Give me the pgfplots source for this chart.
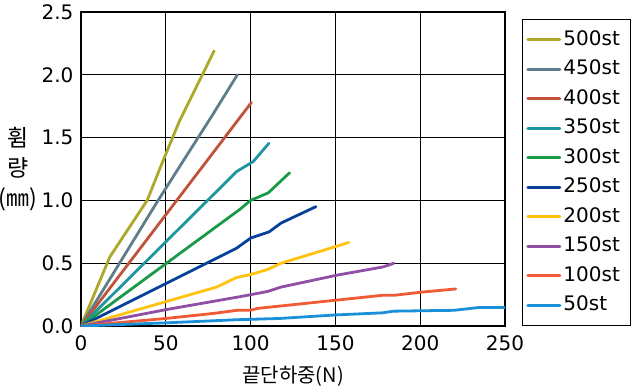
\documentclass[border=0pt]{standalone}
\usepackage{pgfplots}
\pgfplotsset{compat=1.18}
\usepackage{fontspec}
\setmainfont{DejaVu Sans}
\newfontfamily\kr{Noto Sans CJK KR}
\definecolor{c500}{HTML}{ADA829}
\definecolor{c450}{HTML}{5F7D8C}
\definecolor{c400}{HTML}{C0533A}
\definecolor{c350}{HTML}{1E96A0}
\definecolor{c300}{HTML}{1A9A48}
\definecolor{c250}{HTML}{0A3F99}
\definecolor{c200}{HTML}{FFC20E}
\definecolor{c150}{HTML}{8E4FA4}
\definecolor{c100}{HTML}{F05A35}
\definecolor{c50}{HTML}{1A90D9}
\begin{document}
\begin{tikzpicture}
\useasboundingbox (-81pt,-63pt) rectangle (552pt,326pt);
\begin{axis}[
  scale only axis, width=424pt, height=314pt,
  xmin=0, xmax=250, ymin=0, ymax=2.5,
  xtick={0,50,100,150,200,250}, ytick={0,0.5,1,1.5,2,2.5},
  grid=major, grid style={black, line width=1.2pt},
  axis line style={line width=2.5pt}, tick style={draw=none},
  /pgf/number format/assume math mode=true,
  yticklabel style={xshift=-4pt, /pgf/number format/.cd, fixed, fixed zerofill, precision=1},
  tick label style={font=\fontsize{20}{20}\selectfont},
  xticklabel style={yshift=-6pt},
  xlabel={\kr 끝단하중(N)},
  xlabel style={at={(axis description cs:0.5,0)}, anchor=center, yshift=-50pt, font=\fontsize{20}{20}\selectfont},
  ylabel={\kr 휨\\\kr 량\\\kr (㎜)},
  ylabel style={at={(axis description cs:0,0.5)}, anchor=center, rotate=-90, xshift=-63pt, align=center, font=\fontsize{23}{30}\selectfont},
  legend style={at={(1.04,0.978)}, anchor=north west, draw=black, line width=1pt,
    font=\fontsize{20}{20}\selectfont, row sep=6.5pt, inner xsep=4pt, inner ysep=9pt,
    nodes={inner sep=2pt, text height=15pt, text depth=4pt, text width=61pt}},
  legend cell align=left,
  legend image code/.code={\draw[#1, line width=3pt] (0pt,0pt) -- (32pt,0pt);},
  every axis plot/.append style={line width=2.8pt, line cap=round, line join=round},
]
\addplot[c500] coordinates {(0,0) (17,0.55) (39,1.0) (48.5,1.32) (58,1.63) (78.5,2.19)};
\addlegendentry{500st}
\addplot[c450] coordinates {(0,0) (45,0.99) (78,1.69) (92.2,2.0)};
\addlegendentry{450st}
\addplot[c400] coordinates {(0,0) (100.5,1.78)};
\addlegendentry{400st}
\addplot[c350] coordinates {(0,0) (91.8,1.23) (101.6,1.31) (110.8,1.455)};
\addlegendentry{350st}
\addplot[c300] coordinates {(0,0) (93.8,0.93) (100,1.0) (110.4,1.06) (123,1.22)};
\addlegendentry{300st}
\addplot[c250] coordinates {(0,0) (91.8,0.62) (100,0.70) (111,0.75) (118,0.82) (138.5,0.95)};
\addlegendentry{250st}
\addplot[c200] coordinates {(0,0) (80,0.31) (91.5,0.385) (100,0.41) (110,0.45) (118,0.50) (158,0.665)};
\addlegendentry{200st}
\addplot[c150] coordinates {(0,0) (50,0.13) (94,0.234) (110,0.275) (118,0.31) (151,0.405) (178,0.47) (184.5,0.50)};
\addlegendentry{150st}
\addplot[c100] coordinates {(0,0) (50,0.06) (78,0.10) (92,0.125) (100,0.125) (104,0.14) (150,0.205) (178,0.245) (185,0.245) (201,0.27) (221,0.295)};
\addlegendentry{100st}
\addplot[c50] coordinates {(0,0) (50,0.025) (92,0.05) (117,0.06) (150,0.088) (178,0.105) (184,0.118) (220,0.125) (235,0.148) (250,0.148)};
\addlegendentry{50st}
\end{axis}
\end{tikzpicture}
\end{document}
